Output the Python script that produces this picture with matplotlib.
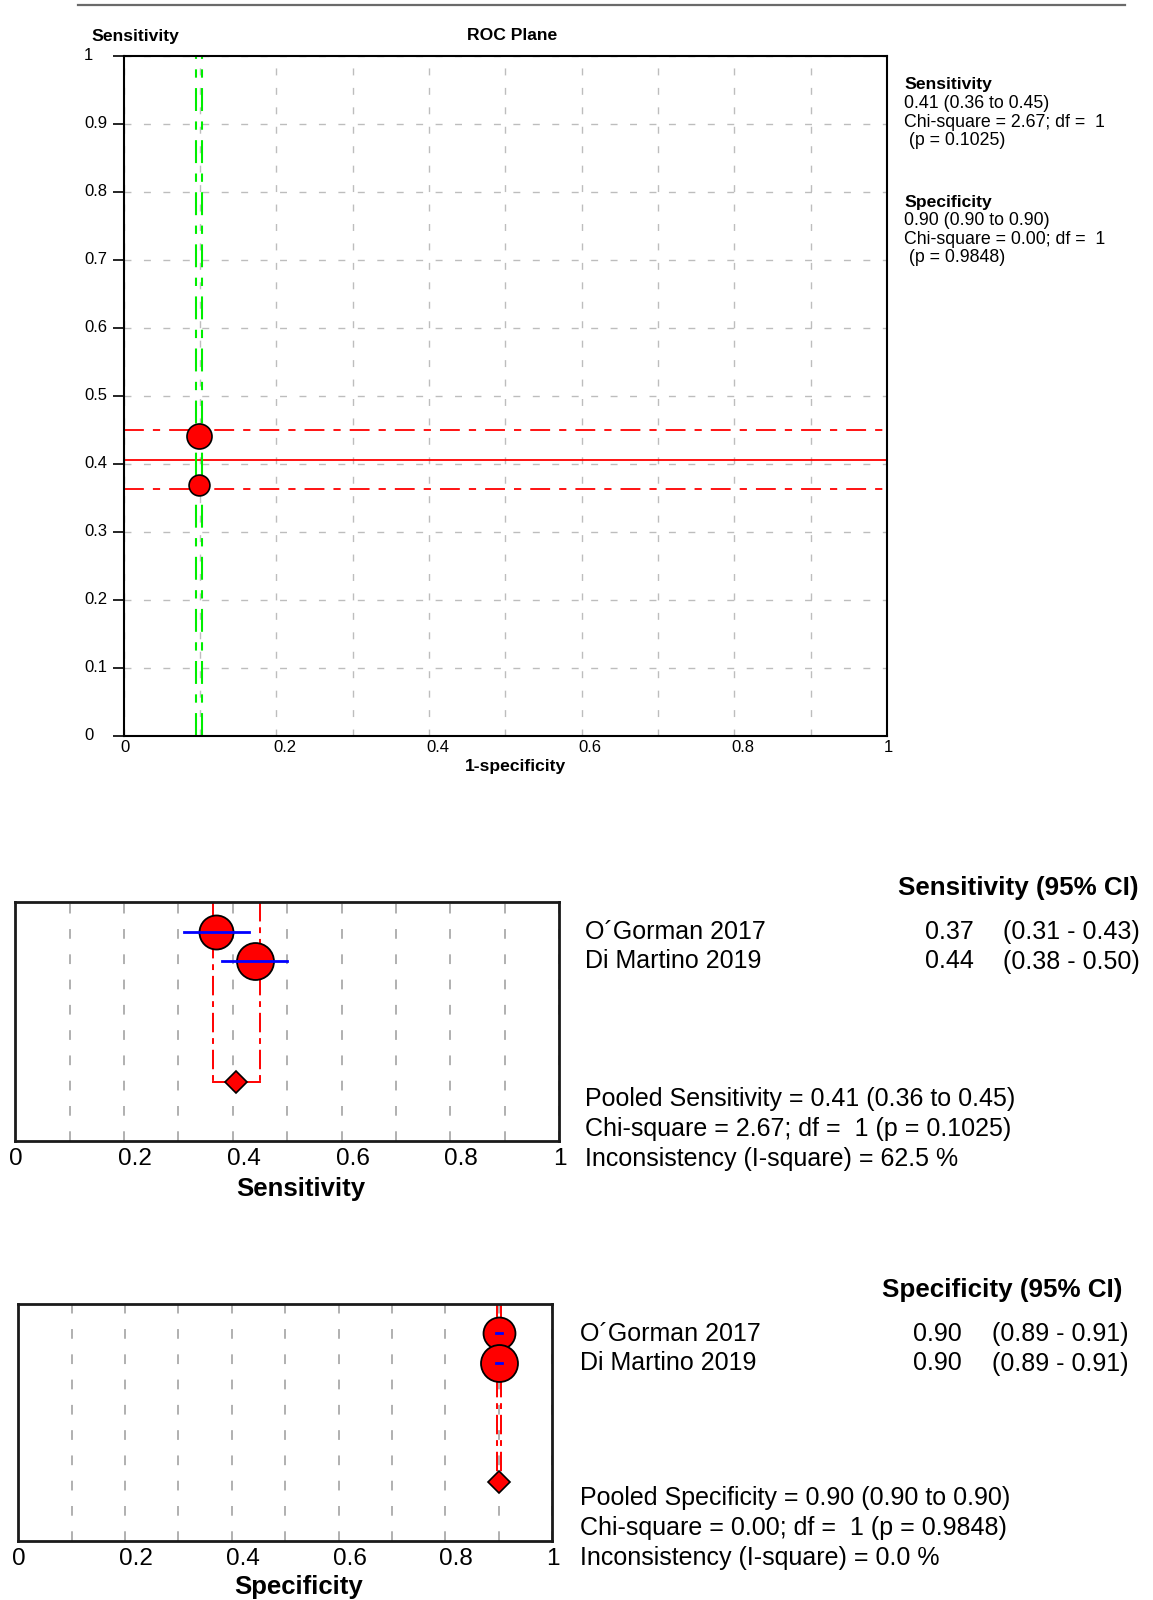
import numpy as np
import matplotlib
matplotlib.use("Agg")
import matplotlib.pyplot as plt
import matplotlib.transforms as mtransforms
from matplotlib.lines import Line2D

plt.rcParams['font.family'] = ['Liberation Sans', 'DejaVu Sans']

# data
studies = ["O´Gorman 2017", "Di Martino 2019"]
sens = [0.369, 0.441]
sens_lo = [0.31, 0.38]
sens_hi = [0.43, 0.50]
spec = [0.901, 0.901]
spec_lo = [0.895, 0.895]
spec_hi = [0.907, 0.907]
sens_pooled = 0.406
sens_pooled_ci = [0.363, 0.450]
spec_pooled = 0.901
spec_pooled_ci = [0.897, 0.905]

sens_txt = ["0.37", "0.44"]
sens_ci_txt = ["(0.31 - 0.43)", "(0.38 - 0.50)"]
spec_txt = ["0.90", "0.90"]
spec_ci_txt = ["(0.89 - 0.91)", "(0.89 - 0.91)"]
sens_summary = ["Pooled Sensitivity = 0.41 (0.36 to 0.45)",
                "Chi-square = 2.67; df =  1 (p = 0.1025)",
                "Inconsistency (I-square) = 62.5 %"]
spec_summary = ["Pooled Specificity = 0.90 (0.90 to 0.90)",
                "Chi-square = 0.00; df =  1 (p = 0.9848)",
                "Inconsistency (I-square) = 0.0 %"]
roc_sens_box = ["0.41 (0.36 to 0.45)", "Chi-square = 2.67; df =  1", " (p = 0.1025)"]
roc_spec_box = ["0.90 (0.90 to 0.90)", "Chi-square = 0.00; df =  1", " (p = 0.9848)"]
tick_vals = [0, 0.2, 0.4, 0.6, 0.8, 1]
tick_txt = ["0", "0.2", "0.4", "0.6", "0.8", "1"]
roc_y_vals = [0, 0.1, 0.2, 0.3, 0.4, 0.5, 0.6, 0.7, 0.8, 0.9, 1]
roc_y_txt = ["0", "0.1", "0.2", "0.3", "0.4", "0.5", "0.6", "0.7", "0.8", "0.9", "1"]

W, H = 1153, 1600
fig = plt.figure(figsize=(W / 100, H / 100), dpi=100)


def box(l, t, r, b):
    return fig.add_axes([l / W, 1 - b / H, (r - l) / W, (b - t) / H])


def ftext(x, y, s, **kw):
    fig.text(x / W, 1 - y / H, s, **kw)


GRID = "#bdbdbd"
RED = "#ff0000"

# top rule
fig.add_artist(Line2D([78 / W, 1125 / W], [1 - 5 / H, 1 - 5 / H],
                      transform=fig.transFigure, color="#6a6a6a", lw=1.6))

# ---------------- ROC plane ----------------
ax = box(123.5, 56, 887, 736)
ax.set_xlim(0, 1)
ax.set_ylim(0, 1)
ax.set_xticks(np.linspace(0, 1, 11))
ax.set_yticks(roc_y_vals)
ax.set_xticklabels([])
ax.set_yticklabels([])
ax.tick_params(axis="x", length=0)
ax.tick_params(axis="y", length=8, width=1.2, direction="out")
ax.grid(True, color=GRID, lw=1, linestyle=(0, (5, 9)))
ax.set_axisbelow(True)
for s in ax.spines.values():
    s.set_linewidth(1.5)
    s.set_color("black")

dashdot = (0, (11, 5, 4, 5))
ax.axhline(sens_pooled, color=RED, lw=1.3, zorder=2)
for v in sens_pooled_ci:
    ax.axhline(v, color=RED, lw=1.3, linestyle=dashdot, zorder=2)
for v in spec_pooled_ci:
    ax.axvline(1 - v, color="#00ee00", lw=1.5, linestyle=dashdot, zorder=2)
roc_ms = [15, 18]
for i in range(len(studies)):
    ax.plot(1 - spec[i], sens[i], "o", ms=roc_ms[i], mfc=RED, mec="black",
            mew=1.2, zorder=4)

xt = mtransforms.offset_copy(ax.get_xaxis_transform(), fig, x=-3, y=-12, units="dots")
for v, t in zip(tick_vals, tick_txt):
    ax.text(v, 0, t, transform=xt, ha="left", va="center", fontsize=12)
yt = mtransforms.blended_transform_factory(fig.transFigure, ax.transData)
for v, t in zip(roc_y_vals, roc_y_txt):
    ax.text(84 / W, v, t, transform=yt, ha="left", va="center", fontsize=12)

ftext(91, 36, "Sensitivity", fontsize=12.6, fontweight="bold", va="center", ha="left")
ftext(512, 36, "ROC Plane", fontsize=12.6, fontweight="bold", va="center", ha="center")
ftext(515, 767, "1-specificity", fontsize=12.6, fontweight="bold", va="center", ha="center")

ftext(904, 85, "Sensitivity", fontsize=12.6, fontweight="bold", va="center")
for k, line in enumerate(roc_sens_box):
    ftext(904, 103.5 + 18.6 * k, line, fontsize=12.8, va="center")
ftext(904, 202, "Specificity", fontsize=12.6, fontweight="bold", va="center")
for k, line in enumerate(roc_spec_box):
    ftext(904, 220.5 + 18.6 * k, line, fontsize=12.8, va="center")


# ---------------- forest plots ----------------
def forest(rect, est, lo, hi, pooled, pooled_ci, sizes, xlabel, label_x, label_y):
    fa = box(*rect)
    fa.set_xlim(0, 1)
    fa.set_ylim(8.05, 0)
    fa.set_xticks(np.linspace(0, 1, 11))
    fa.set_yticks([])
    fa.set_xticklabels([])
    fa.tick_params(axis="x", length=0)
    fa.grid(True, axis="x", color="#b0b0b0", lw=1.4, linestyle=(0, (5, 8)))
    fa.set_axisbelow(True)
    for s in fa.spines.values():
        s.set_linewidth(2)
        s.set_color("#1a1a1a")
    rows = [1, 2]
    ypool = 6.05
    for v in pooled_ci:
        fa.plot([v, v], [0, ypool], color=RED, lw=1.4, linestyle=(0, (10, 3, 3, 3)), zorder=2)
    fa.plot(pooled_ci, [ypool, ypool], color=RED, lw=1.4, zorder=2)
    for i in range(len(est)):
        fa.plot(est[i], rows[i], "o", ms=sizes[i], mfc=RED, mec="black", mew=1.3, zorder=4)
        fa.plot([lo[i], hi[i]], [rows[i], rows[i]], color="#0000ff", lw=2, zorder=5)
    fa.plot(pooled, ypool, "D", ms=11.5, mfc=RED, mec="black", mew=1.2, zorder=4)
    tt = mtransforms.offset_copy(fa.get_xaxis_transform(), fig, x=-6, y=-18, units="dots")
    for v, t in zip(tick_vals, tick_txt):
        fa.text(v, 0, t, transform=tt, ha="left", va="center", fontsize=17.5)
    ftext(label_x, label_y, xlabel, fontsize=18.5, fontweight="bold", ha="center", va="center")
    return fa


forest((15.3, 902, 559, 1141), sens, sens_lo, sens_hi, sens_pooled, sens_pooled_ci,
       [24.5, 26.6], "Sensitivity", 301, 1189)
forest((18.4, 1304, 552, 1541), spec, spec_lo, spec_hi, spec_pooled, spec_pooled_ci,
       [23, 26.6], "Specificity", 299, 1587)

FS = 18
FH = 18.7
# sensitivity text block
ftext(1138, 888, "Sensitivity (95% CI)", fontsize=FH, fontweight="bold", ha="right", va="center")
for i, name in enumerate(studies):
    y = 932 + 29.5 * i
    ftext(585, y, name, fontsize=FS, va="center")
    ftext(974, y, sens_txt[i], fontsize=FS, ha="right", va="center")
    ftext(1003, y, sens_ci_txt[i], fontsize=FS, va="center")
for k, line in enumerate(sens_summary):
    ftext(585, 1099 + 29.8 * k, line, fontsize=FS, va="center")

# specificity text block
ftext(1122, 1290, "Specificity (95% CI)", fontsize=FH, fontweight="bold", ha="right", va="center")
for i, name in enumerate(studies):
    y = 1334 + 29.5 * i
    ftext(580, y, name, fontsize=FS, va="center")
    ftext(962, y, spec_txt[i], fontsize=FS, ha="right", va="center")
    ftext(992, y, spec_ci_txt[i], fontsize=FS, va="center")
for k, line in enumerate(spec_summary):
    ftext(580, 1498 + 29.8 * k, line, fontsize=FS, va="center")

fig.savefig("out.png", dpi=100)
plt.close(fig)
